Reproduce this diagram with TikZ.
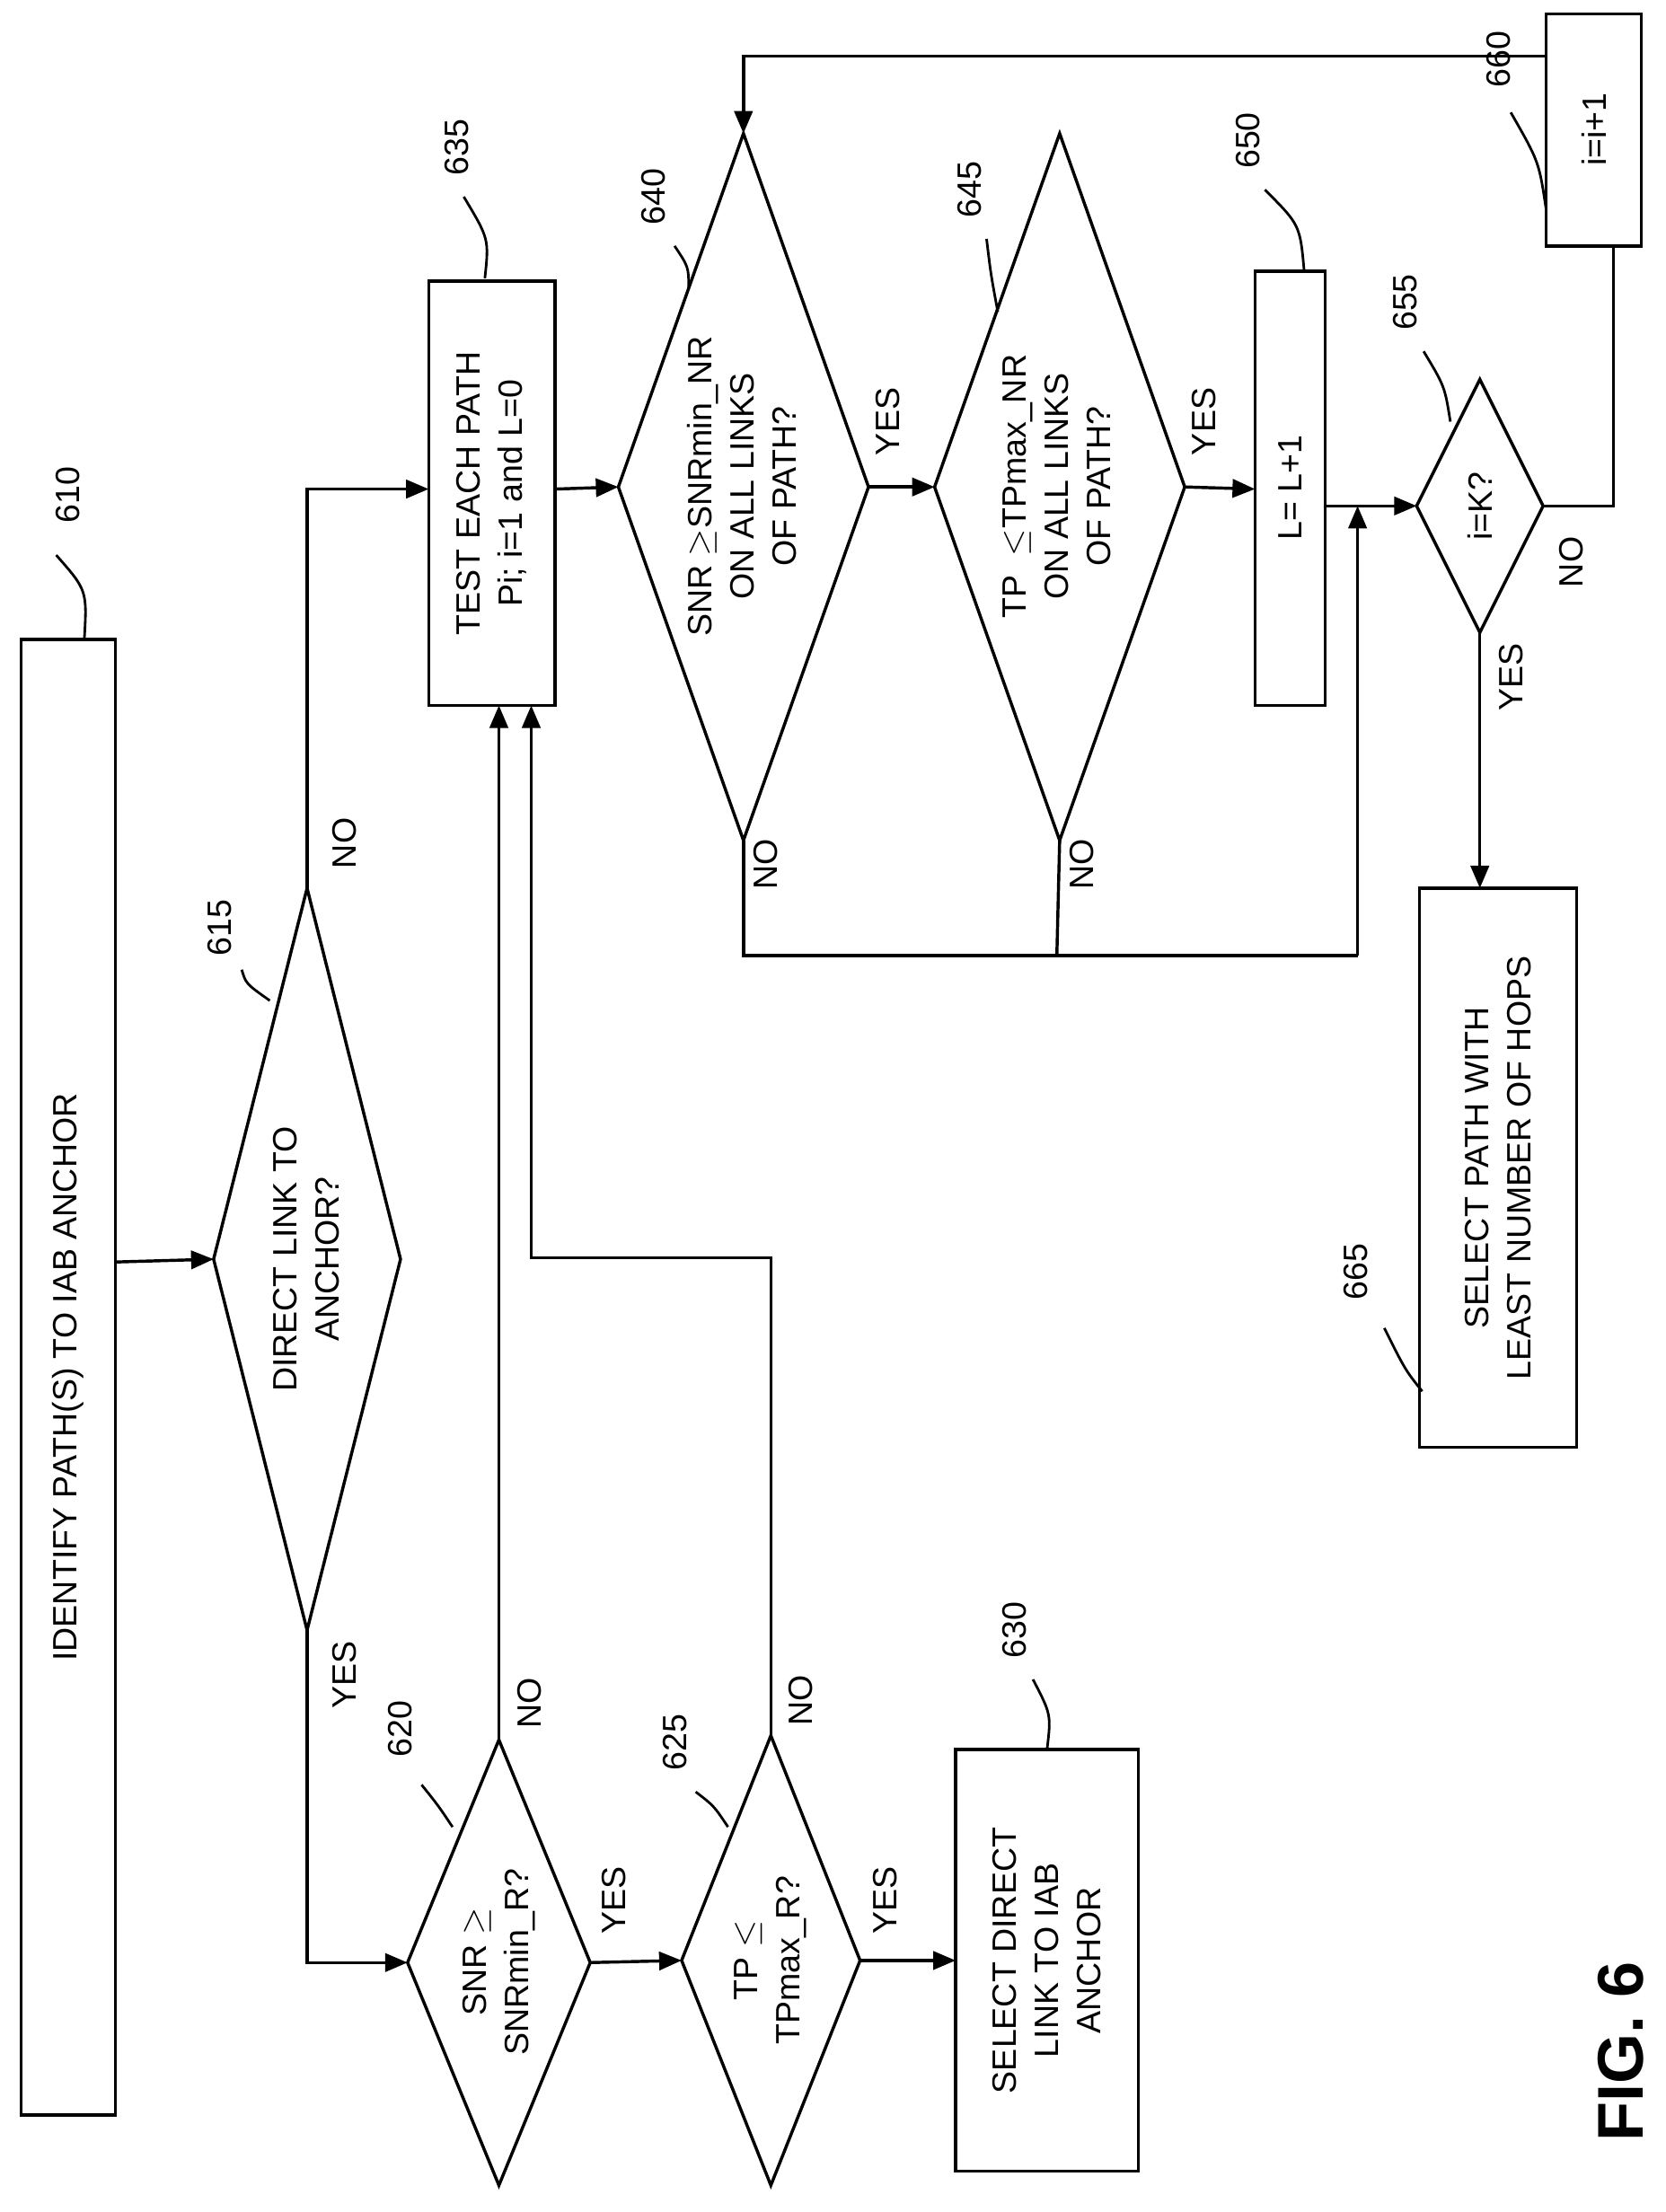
\documentclass[tikz,border=0pt]{standalone}
\usepackage{fontspec}
\setmainfont{Liberation Sans}
\usetikzlibrary{arrows.meta}
\begin{document}
\begin{tikzpicture}[x=1pt,y=-1pt,line width=2.2pt,
  txt/.style={rotate=90,align=center,font=\fontsize{24}{30}\selectfont,inner sep=0},
  lbl/.style={rotate=90,font=\fontsize{24}{28}\selectfont,inner sep=1pt},
  box/.style={draw,rectangle,line width=2.2pt},
  arr/.style={-{Triangle[length=16pt,width=13pt]}},
  lead/.style={line width=1.8pt}]
\useasboundingbox (0,0) rectangle (1185,1574);
% diamond macro
\newcommand{\mydiam}[5]{% name, left x, right x, top y, bottom y
  \coordinate (#1l) at (#2,{(#4+#5)/2});
  \coordinate (#1r) at (#3,{(#4+#5)/2});
  \coordinate (#1t) at ({(#2+#3)/2},#4);
  \coordinate (#1b) at ({(#2+#3)/2},#5);
  \draw (#1l)--(#1t)--(#1r)--(#1b)--cycle;}
% boxes
\draw[box] (15,455) rectangle (82,1505); \node[txt] (t610) at (48.5,980) {IDENTIFY PATH(S) TO IAB ANCHOR};
\draw[box] (305,200) rectangle (395,502); \node[txt] (t635) at (350,351) {TEST EACH PATH\\Pi; i=1 and L=0};
\draw[box] (680,1245) rectangle (810,1545); \node[txt] (t630) at (745,1395) {SELECT DIRECT\\LINK TO IAB\\ANCHOR};
\draw[box] (893,193) rectangle (943,502); \node[txt] (t650) at (918,347) {L= L+1};
\draw[box] (1100,10) rectangle (1168,175); \node[txt] (t660) at (1134,92) {i=i+1};
\draw[box] (1010,632) rectangle (1122,1030); \node[txt] (t665) at (1066,831) {SELECT PATH WITH\\LEAST NUMBER OF HOPS};
\coordinate (b610r) at (82,898);
\coordinate (b635l) at (305,348); \coordinate (b635r) at (395,348);
\coordinate (b635a) at (355,502); \coordinate (b635b) at (378,502);
\coordinate (b630l) at (680,1395);
\coordinate (b650l) at (893,348); \coordinate (b650r) at (943,360);
\coordinate (b660b) at (1148,175); \coordinate (b660l) at (1100,40);
\coordinate (b665t) at (1053,632);
% diamonds
\mydiam{d615}{152}{285}{632}{1160}
\node[txt] (t615) at (218,896) {DIRECT LINK TO\\ANCHOR?};
\mydiam{d620}{290}{420}{1238}{1555}
\node[txt] (t620) at (355,1396) {SNR $\mathbf{\geq}$\\SNRmin\_R?};
\mydiam{d625}{485}{612}{1235}{1555}
\node[txt] (t625) at (548,1395) {TP $\mathbf{\leq}$\\TPmax\_R?};
\mydiam{d640}{440}{618}{95}{598}
\node[txt] (t640) at (528,346) {SNR $\mathbf{\geq}$SNRmin\_NR\\ON ALL LINKS\\OF PATH?};
\mydiam{d645}{665}{843}{95}{598}
\node[txt] (t645) at (752,346) {TP\ \ $\mathbf{\leq}$TPmax\_NR\\ON ALL LINKS\\OF PATH?};
\mydiam{d655}{1008}{1098}{270}{450}
\node[txt] (t655) at (1053,360) {i=K?};
% connectors
\draw[arr] (b610r) -- (d615l);
\draw[arr] (d615t) |- (b635l);
\draw[arr] (d615b) |- (d620l);
\draw[arr] (d620t) -- (b635a);
\draw[arr] (d620r) -- (d625l);
\draw[arr] (d625t) |- (378,895) -- (b635b);
\draw[arr] (d625r) -- (b630l);
\draw[arr] (b635r) -- (d640l);
\draw[arr] (d640r) -- (d645l);
\draw[arr] (d645r) -- (b650l);
\draw (d640b) |- (966,680);
\draw (d645b) -- (752,680);
\draw[arr] (966,680) -- (966,360);
\draw[arr] (b650r) -- (d655l);
\draw (d655r) -| (b660b);
\draw[arr] (b660l) -| (d640t);
\draw[arr] (d655b) -- (b665t);
% yes/no
\node[lbl] at (245,600) {NO};
\node[lbl] at (245,1192) {YES};
\node[lbl] at (377,1212) {NO};
\node[lbl] at (437,1352) {YES};
\node[lbl] at (570,1210) {NO};
\node[lbl] at (630,1352) {YES};
\node[lbl] at (632,300) {YES};
\node[lbl] at (857,300) {YES};
\node[lbl] at (545,615) {NO};
\node[lbl] at (770,615) {NO};
\node[lbl] at (1118,400) {NO};
\node[lbl] at (1075,482) {YES};
% reference labels
\node[lbl] (l610) at (48,352) {610}; \draw[lead] (60,455) .. controls (62,420) .. (40,395);
\node[lbl] (l615) at (156,660) {615}; \draw[lead] (192,712) .. controls (175,700) .. (172,690);
\node[lbl] (l620) at (285,1230) {620}; \draw[lead] (322,1300) .. controls (312,1285) .. (300,1270);
\node[lbl] (l625) at (480,1240) {625}; \draw[lead] (518,1300) .. controls (508,1285) .. (495,1275);
\node[lbl] (l630) at (722,1160) {630}; \draw[lead] (745,1245) .. controls (748,1220) .. (735,1195);
\node[lbl] (l635) at (325,105) {635}; \draw[lead] (345,198) .. controls (348,170) .. (330,140);
\node[lbl] (l640) at (465,140) {640}; \draw[lead] (490,205) .. controls (490,190) .. (480,175);
\node[lbl] (l645) at (690,135) {645}; \draw[lead] (710,222) .. controls (705,195) .. (702,170);
\node[lbl] (l650) at (888,100) {650}; \draw[lead] (928,193) .. controls (925,160) .. (900,135);
\node[lbl] (l655) at (1000,215) {655}; \draw[lead] (1032,300) .. controls (1028,275) .. (1013,250);
\node[lbl] (l660) at (1066,42) {660}; \draw[lead] (1100,148) .. controls (1095,115) .. (1075,80);
\node[lbl] (l665) at (965,905) {665}; \draw[lead] (1012,990) .. controls (1000,975) .. (985,945);
\node[rotate=90,font=\fontsize{46}{50}\selectfont\bfseries] (fig) at (1153,1460) {FIG. 6};
\end{tikzpicture}
\end{document}
